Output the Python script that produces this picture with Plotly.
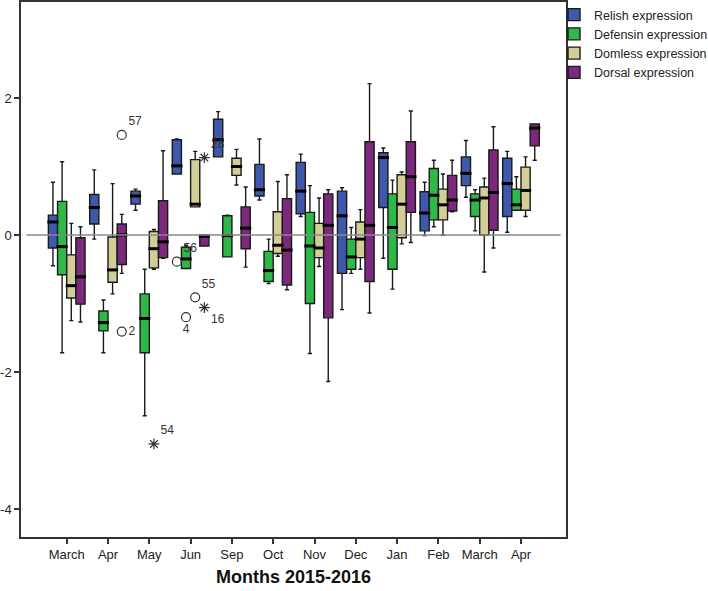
import plotly.graph_objects as go

MONTHS = ["March", "Apr", "May", "Jun", "Sep", "Oct", "Nov", "Dec", "Jan", "Feb", "March", "Apr"]
SERIES = ["Relish expression", "Defensin expression", "Domless expression", "Dorsal expression"]
COLORS = ["#3E58AC", "#2EB848", "#D3CE97", "#7C287D"]
Y_TICKS = [-4, -2, 0, 2]
Y_TICKTEXT = ["-4", "-2", "0", "2"]

# five-number summaries per month
RELISH_LO = [-0.45, -0.06, 0.36, 0.89, 1.14, 0.51, 0.27, -1.09, -0.34, -0.01, 0.55, 0.04]
RELISH_Q1 = [-0.19, 0.16, 0.45, 0.89, 1.14, 0.57, 0.31, -0.56, 0.40, 0.06, 0.72, 0.27]
RELISH_MED = [0.19, 0.40, 0.57, 1.01, 1.39, 0.66, 0.64, 0.28, 1.13, 0.32, 0.90, 0.75]
RELISH_Q3 = [0.29, 0.59, 0.64, 1.39, 1.69, 1.03, 1.06, 0.64, 1.20, 0.63, 1.14, 1.12]
RELISH_HI = [0.77, 0.95, 0.67, 1.40, 1.80, 1.40, 1.18, 0.69, 1.27, 0.77, 1.38, 1.22]

DEFENSIN_LO = [-1.72, -1.72, -2.64, -0.49, -0.32, -0.71, -1.73, -0.56, -0.79, 0.12, 0.06, 0.36]
DEFENSIN_Q1 = [-0.58, -1.40, -1.72, -0.49, -0.32, -0.68, -1.00, -0.50, -0.50, 0.22, 0.27, 0.36]
DEFENSIN_MED = [-0.17, -1.28, -1.22, -0.35, -0.01, -0.52, -0.16, -0.32, 0.11, 0.58, 0.51, 0.44]
DEFENSIN_Q3 = [0.49, -1.11, -0.86, -0.18, 0.28, -0.24, 0.33, -0.06, 0.60, 0.97, 0.60, 0.67]
DEFENSIN_HI = [1.07, -0.95, -0.50, -0.15, 0.29, -0.06, 0.72, 0.11, 0.80, 1.09, 0.66, 0.85]

DOMLESS_LO = [-1.25, -0.86, -0.50, 0.41, 0.73, -0.31, -0.46, -0.50, -0.13, 0.00, -0.54, 0.27]
DOMLESS_Q1 = [-0.92, -0.69, -0.48, 0.41, 0.87, -0.27, -0.33, -0.33, -0.04, 0.22, 0.00, 0.36]
DOMLESS_MED = [-0.74, -0.51, -0.20, 0.45, 1.00, -0.15, -0.19, -0.06, 0.45, 0.44, 0.54, 0.65]
DOMLESS_Q3 = [-0.29, -0.03, 0.05, 1.10, 1.12, 0.34, 0.17, 0.19, 0.88, 0.67, 0.70, 0.99]
DOMLESS_HI = [0.17, 0.75, 0.08, 1.22, 1.25, 0.78, 0.54, 0.37, 0.92, 0.89, 0.83, 1.14]

DORSAL_LO = [-1.27, -0.56, -0.34, -0.16, -0.47, -0.80, -2.14, -1.14, -0.11, 0.34, -0.19, 1.09]
DORSAL_Q1 = [-1.01, -0.43, -0.33, -0.16, -0.20, -0.73, -1.21, -0.68, 0.33, 0.35, 0.07, 1.30]
DORSAL_MED = [-0.61, 0.00, -0.10, -0.02, 0.10, -0.22, 0.14, 0.14, 0.85, 0.51, 0.62, 1.56]
DORSAL_Q3 = [-0.04, 0.16, 0.50, 0.00, 0.41, 0.53, 0.60, 1.36, 1.36, 0.87, 1.24, 1.62]
DORSAL_HI = [0.12, 0.30, 1.23, 0.00, 0.70, 0.88, 0.66, 2.21, 1.81, 1.09, 1.58, 1.62]

# outliers: month index, series index, value, case label, kind
OUT_MONTH = [1, 1, 2, 3, 3, 3, 3, 3]
OUT_SERIES = [3, 3, 2, 0, 1, 2, 3, 3]
OUT_VALUE = [1.46, -1.41, -3.05, -0.39, -1.20, -0.91, -1.06, 1.13]
OUT_LABEL = ["57", "2", "54", "56", "4", "55", "16", "28"]
OUT_KIND = ["o", "o", "*", "o", "o", "o", "*", "*"]
OUT_TEXTPOS = ["top right", "middle right", "top right", "top right",
               "bottom center", "top right", "bottom right", "top right"]

STATS = [
    (RELISH_LO, RELISH_Q1, RELISH_MED, RELISH_Q3, RELISH_HI),
    (DEFENSIN_LO, DEFENSIN_Q1, DEFENSIN_MED, DEFENSIN_Q3, DEFENSIN_HI),
    (DOMLESS_LO, DOMLESS_Q1, DOMLESS_MED, DOMLESS_Q3, DOMLESS_HI),
    (DORSAL_LO, DORSAL_Q1, DORSAL_MED, DORSAL_Q3, DORSAL_HI),
]

FONT = "Arial, Liberation Sans, sans-serif"
SLOT = 0.222
OFFSETS = [-1.5 * SLOT, -0.5 * SLOT, 0.5 * SLOT, 1.5 * SLOT]
AXIS = "#333333"

fig = go.Figure()

for k, (name, color, (lo, q1, med, q3, hi)) in enumerate(zip(SERIES, COLORS, STATS)):
    xs = [i + OFFSETS[k] for i in range(len(MONTHS))]
    fig.add_trace(go.Box(
        name=name,
        x=xs,
        lowerfence=lo, q1=q1, median=med, q3=q3, upperfence=hi,
        width=SLOT,
        whiskerwidth=0.45,
        fillcolor=color,
        line=dict(color="#1a1a1a", width=1.4),
        boxpoints=False,
        hoverinfo="skip",
    ))

# thick black median bars on top of the boxes
for k, (_, _, med, _, _) in enumerate(STATS):
    fig.add_trace(go.Scatter(
        x=[i + OFFSETS[k] for i in range(len(MONTHS))],
        y=med,
        mode="markers",
        marker=dict(symbol="line-ew", size=8, line=dict(color="#000000", width=3)),
        showlegend=False,
        hoverinfo="skip",
    ))

# outliers: circles and extreme stars, labelled with case numbers
for kind, symbol in (("o", "circle-open"), ("*", "asterisk-open")):
    idx = [j for j, kd in enumerate(OUT_KIND) if kd == kind]
    fig.add_trace(go.Scatter(
        x=[OUT_MONTH[j] + OFFSETS[OUT_SERIES[j]] for j in idx],
        y=[OUT_VALUE[j] for j in idx],
        mode="markers+text",
        text=[OUT_LABEL[j] for j in idx],
        textposition=[OUT_TEXTPOS[j] for j in idx],
        textfont=dict(family=FONT, size=12, color="#333333"),
        marker=dict(symbol=symbol, size=9, color="#333333", line=dict(color="#333333", width=1.2)),
        showlegend=False,
        hoverinfo="skip",
    ))

fig.add_shape(type="line", xref="paper", x0=0.01, x1=0.99, yref="y", y0=0, y1=0,
              line=dict(color="#888888", width=1.5), layer="above")

fig.add_annotation(
    text="<b>Months 2015-2016</b>",
    xref="paper", x=0.5, xanchor="center",
    yref="paper", y=-0.075, yanchor="middle",
    showarrow=False,
    font=dict(family=FONT, size=18, color="#111111"),
)

fig.update_layout(
    width=708,
    height=591,
    margin=dict(l=21, r=142, t=2, b=54, autoexpand=False),
    paper_bgcolor="white",
    plot_bgcolor="white",
    font=dict(family=FONT, size=13, color="#222222"),
    legend=dict(
        xref="container", x=0.7825, xanchor="left",
        yref="container", y=1.0165, yanchor="top",
        bgcolor="rgba(0,0,0,0)",
        font=dict(family=FONT, size=12.5, color="#222222"),
        tracegroupgap=0,
    ),
)
fig.update_xaxes(
    range=[-1.107, 12.09],
    tickmode="array",
    tickvals=list(range(len(MONTHS))),
    ticktext=MONTHS,
    ticks="outside", ticklen=5, tickwidth=1.5, tickcolor=AXIS,
    showline=True, linecolor=AXIS, linewidth=1.5, mirror=True,
    showgrid=False, zeroline=False, automargin=False,
)
fig.update_yaxes(
    range=[-4.409, 3.401],
    tickmode="array",
    tickvals=Y_TICKS,
    ticktext=Y_TICKTEXT,
    ticks="outside", ticklen=5, tickwidth=1.5, tickcolor=AXIS,
    showline=True, linecolor=AXIS, linewidth=1.5, mirror=True,
    showgrid=False, zeroline=False, automargin=False,
)

# drop the browser's default 8px body margin so the figure sits at the page corner
fig.write_html(
    "out.html",
    config={"displayModeBar": False},
    post_script="document.body.style.margin = '0';",
)
